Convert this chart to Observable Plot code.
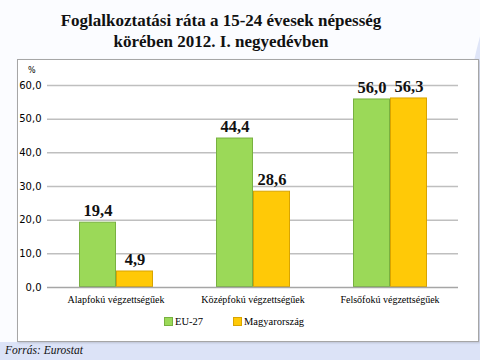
<!DOCTYPE html>
<html><head><meta charset="utf-8">
<script src="https://cdn.jsdelivr.net/npm/d3@7"></script>
<script src="https://cdn.jsdelivr.net/npm/@observablehq/plot@0.6"></script>
<style>
html,body{margin:0;padding:0;}
body{width:480px;height:360px;position:relative;overflow:hidden;background:#fbfcff;font-family:"Liberation Serif",serif;}
#rightbg{position:absolute;left:455px;top:-20px;width:80px;height:400px;background:#dfe5f8;border-top-left-radius:60px 300px;}
#bottombg{position:absolute;left:0;top:342px;width:480px;height:18px;background:#dce3f7;}
#title{position:absolute;left:0;top:10px;width:442px;text-align:center;font-weight:bold;font-size:17px;line-height:21px;color:#111;}
#box{position:absolute;left:17px;top:59px;width:460px;height:281px;background:#fff;border:1px solid #a6a6a6;box-shadow:1px 1px 2px rgba(0,0,0,0.15);}
#chart{position:absolute;left:0;top:0;}
#pct{position:absolute;left:10px;top:6px;font-family:Tahoma,"DejaVu Sans",sans-serif;font-size:8px;}
#legend{position:absolute;left:146px;top:256px;font-size:10.5px;display:flex;gap:0;}
.li{display:flex;align-items:center;margin-right:30px;}
.sw{width:7px;height:7px;margin-right:2px;}
#caption{position:absolute;left:5px;top:344px;font-style:italic;font-size:11.5px;color:#111;}
svg.serif, svg.serif text{font-family:"Liberation Serif",serif !important;}
svg.sans, svg.sans text{font-family:"DejaVu Sans",sans-serif !important;}
</style></head>
<body>
<div id="rightbg"></div>
<div id="bottombg"></div>
<div id="title">Foglalkoztatási ráta a 15-24 évesek népesség<br>körében 2012. I. negyedévben</div>
<div id="box"><div id="chart"></div><div id="pct">%</div><div id="legend"></div></div>
<div id="caption">Forrás: Eurostat</div>
<script>
const categories = ["Alapfokú végzettségűek", "Középfokú végzettségűek", "Felsőfokú végzettségűek"];
const series = ["EU-27", "Magyarország"];
const eu27 = [19.4, 44.4, 56.0];
const hungary = [4.9, 28.6, 56.3];
const yTicks = [0, 10, 20, 30, 40, 50, 60];
const colors = ["#9bd958", "#ffc907"];
const strokes = ["#78b140", "#d9a400"];

const data = [];
categories.forEach((c, i) => {
  data.push({cat: c, series: series[0], value: eu27[i]});
  data.push({cat: c, series: series[1], value: hungary[i]});
});
const fmt = v => v.toFixed(1).replace(".", ",");

const chart = Plot.plot({
  width: 460,
  height: 250,
  marginTop: 25,
  marginBottom: 23,
  marginLeft: 29,
  marginRight: 20,
  style: "background: transparent;",
  fx: {domain: categories, padding: 0, axis: "bottom", label: null, tickSize: 0, tickPadding: 8, fontSize: 10.5},
  x: {domain: series, axis: null, paddingInner: 0, paddingOuter: 0.83},
  y: {domain: [0, 60], ticks: yTicks, axis: null},
  color: {domain: series, range: colors},
  marks: [
    Plot.ruleY(yTicks.slice(1), {stroke: "#bfbfbf", strokeWidth: 1.5}),
    Plot.barY(data, {fx: "cat", x: "series", y: "value", fill: "series",
      stroke: d => strokes[series.indexOf(d.series)], strokeWidth: 1, inset: 0.5}),
    Plot.ruleY([0], {stroke: "#a6a6a6", strokeWidth: 1.5}),
    Plot.text(data, {fx: "cat", x: "series", y: "value", text: d => fmt(d.value),
      lineAnchor: "bottom", dy: -6, fontSize: 16.5, fontWeight: "bold", fill: "#111"})
  ]
});
chart.classList.add("serif");

const axis = Plot.plot({
  width: 460, height: 250, marginTop: 25, marginBottom: 23, marginLeft: 29, marginRight: 20,
  style: "background: transparent;",
  y: {domain: [0, 60], ticks: yTicks, tickFormat: fmt, tickSize: 0, tickPadding: 6, label: null, fontSize: 8},
  x: {axis: null},
  marks: []
});
axis.classList.add("sans");
const wrap = document.getElementById("chart");
wrap.style.position = "relative";
chart.style.position = "absolute"; chart.style.left = "0"; chart.style.top = "0";
axis.style.position = "absolute"; axis.style.left = "0"; axis.style.top = "0";
wrap.appendChild(chart);
wrap.appendChild(axis);

const legend = document.getElementById("legend");
series.forEach((s, i) => {
  const d = document.createElement("div"); d.className = "li";
  d.innerHTML = `<span class="sw" style="background:${colors[i]};border:1px solid ${strokes[i]}"></span><span>${s}</span>`;
  legend.appendChild(d);
});
</script>
</body></html>
